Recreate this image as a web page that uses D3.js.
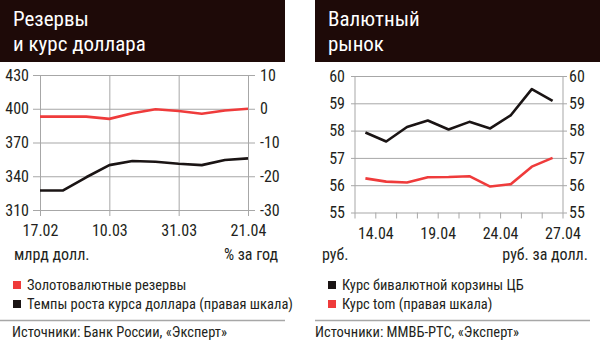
<!DOCTYPE html>
<html>
<head>
<meta charset="utf-8">
<script src="https://cdn.jsdelivr.net/npm/d3@7/dist/d3.min.js"></script>
<style>
  html, body { margin: 0; padding: 0; background: #fff; }
  svg { display: block; }
  text { font-family: "Liberation Sans Narrow", "Roboto Condensed", "DejaVu Sans Condensed", "Arial Narrow", sans-serif; fill: #231f20; }
  .head { fill: #fff; font-size: 21px; }
  .tick text { font-size: 16px; }
  .lbl { font-size: 16px; }
  .leg { font-size: 14.5px; }
  .src { font-size: 14.5px; }
</style>
</head>
<body>
<svg id="chart" width="600" height="345"></svg>
<script>
// Резервы и курс доллара
const reserveDates = ["17.02", "24.02", "03.03", "10.03", "17.03", "24.03", "31.03", "07.04", "14.04", "21.04"];
const reserveLabels = ["17.02", "10.03", "31.03", "21.04"];
const reserves = [393, 393, 393, 391, 396, 399.5, 398, 395.5, 398.5, 400];          // млрд долл.
const usdGrowth = [-24.2, -24.2, -20.3, -16.7, -15.5, -15.7, -16.3, -16.7, -15.2, -14.7]; // % за год
const reserveTicks = [310, 340, 370, 400, 430];
const growthTicks = [-30, -20, -10, 0, 10];

// Валютный рынок
const fxDates = ["14.04", "17.04", "18.04", "19.04", "20.04", "21.04", "24.04", "25.04", "26.04", "27.04"];
const fxLabels = ["14.04", "19.04", "24.04", "27.04"];
const basket = [57.93, 57.6, 58.13, 58.37, 58.04, 58.32, 58.08, 58.57, 59.52, 59.09];
const tom = [56.25, 56.13, 56.1, 56.29, 56.3, 56.33, 55.95, 56.04, 56.68, 57.0];
const fxTicks = [55, 56, 57, 58, 59, 60];

const RED = "#ef3b3b", BLACK = "#1a1414", GRID = "#a7a7a7", HEAD = "#1e0a08";
const intFmt = d => String(d);

const svg = d3.select("#chart");

function header(x, w, lines) {
  svg.append("rect").attr("x", x).attr("y", 0).attr("width", w).attr("height", 62).attr("fill", HEAD);
  lines.forEach((t, i) => {
    svg.append("text").attr("class", "head").attr("x", x + 13).attr("y", 26 + i * 25).text(t);
  });
}

function styleAxis(g) {
  g.select(".domain").remove();
  g.selectAll(".tick line").attr("stroke", GRID).attr("stroke-width", 1);
}

function legend(x, y, color, label) {
  svg.append("rect").attr("x", x).attr("y", y - 4).attr("width", 8).attr("height", 8).attr("fill", color);
  svg.append("text").attr("class", "leg").attr("x", x + 14).attr("y", y).attr("dy", "0.36em").text(label);
}

// ---------- left panel ----------
header(0, 285, ["Резервы", "и курс доллара"]);
{
  const x0 = 40, x1 = 248, top = 75, bottom = 210;
  const x = d3.scalePoint().domain(reserveDates).range([x0, x1]);
  const yL = d3.scaleLinear().domain([310, 430]).range([bottom, top]);
  const yR = d3.scaleLinear().domain([-30, 10]).range([bottom, top]);

  // horizontal grid + left labels
  svg.append("g").attr("transform", `translate(${x0 - 7},0)`)
    .call(d3.axisLeft(yL).tickValues(reserveTicks).tickSize(-(x1 - x0 + 14)).tickPadding(4).tickFormat(intFmt))
    .call(styleAxis);
  svg.append("g").attr("transform", `translate(${x1 + 7},0)`)
    .call(d3.axisRight(yR).tickValues(growthTicks).tickSize(0).tickPadding(5).tickFormat(intFmt))
    .call(styleAxis);

  // vertical grid at labelled dates + bottom labels
  svg.append("g").attr("transform", `translate(0,${top})`)
    .call(d3.axisBottom(x).tickValues(reserveLabels).tickSize(bottom - top + 6).tickPadding(9))
    .call(styleAxis);

  svg.append("text").attr("class", "lbl").attr("x", 14).attr("y", 260).text("млрд долл.");
  svg.append("text").attr("class", "lbl").attr("x", 278).attr("y", 260).attr("text-anchor", "end").text("% за год");

  const line = d3.line().x((d, i) => x(reserveDates[i]));
  svg.append("path").attr("fill", "none").attr("stroke", BLACK).attr("stroke-width", 2.6).attr("stroke-linejoin", "round")
    .attr("d", line.y(d => yR(d))(usdGrowth));
  svg.append("path").attr("fill", "none").attr("stroke", RED).attr("stroke-width", 2.6).attr("stroke-linejoin", "round")
    .attr("d", line.y(d => yL(d))(reserves));

  legend(13, 285, RED, "Золотовалютные резервы");
  legend(13, 304, BLACK, "Темпы роста курса доллара (правая шкала)");
  svg.append("line").attr("x1", 0).attr("x2", 285).attr("y1", 320.5).attr("y2", 320.5).attr("stroke", GRID).attr("stroke-width", 1.5);
  svg.append("text").attr("class", "src").attr("x", 12).attr("y", 337).text("Источники: Банк России, «Эксперт»");
}

// ---------- right panel ----------
header(315, 285, ["Валютный", "рынок"]);
{
  const x0 = 355, x1 = 563, top = 76, bottom = 212.5;
  const x = d3.scaleBand().domain(fxDates).range([x0, x1]);
  const cx = d => x(d) + x.bandwidth() / 2;
  const y = d3.scaleLinear().domain([55, 60]).range([bottom, top]);

  svg.append("g").attr("transform", `translate(${x0 - 4},0)`)
    .call(d3.axisLeft(y).tickValues(fxTicks).tickSize(-(x1 - x0 + 8)).tickPadding(6).tickFormat(intFmt))
    .call(styleAxis);
  svg.append("g").attr("transform", `translate(${x1 + 4},0)`)
    .call(d3.axisRight(y).tickValues(fxTicks).tickSize(0).tickPadding(2).tickFormat(intFmt))
    .call(styleAxis);

  // frame sides
  [x0, x1].forEach(px => {
    svg.append("line").attr("x1", px).attr("x2", px).attr("y1", top).attr("y2", bottom).attr("stroke", GRID);
  });
  // tick marks on band edges
  const edges = fxDates.map(d => x(d)).concat([x1]);
  svg.append("g").selectAll("line").data(edges).join("line")
    .attr("x1", d => d).attr("x2", d => d).attr("y1", bottom).attr("y2", bottom + 6).attr("stroke", GRID);

  svg.append("g").attr("transform", `translate(${x.bandwidth() / 2},${bottom})`)
    .call(d3.axisBottom(x).tickValues(fxLabels).tickSize(0).tickPadding(15))
    .call(styleAxis);

  svg.append("text").attr("class", "lbl").attr("x", 322).attr("y", 260).text("руб.");
  svg.append("text").attr("class", "lbl").attr("x", 588).attr("y", 260).attr("text-anchor", "end").text("руб. за долл.");

  const line = d3.line().x((d, i) => cx(fxDates[i])).y(d => y(d));
  svg.append("path").attr("fill", "none").attr("stroke", RED).attr("stroke-width", 2.6).attr("stroke-linejoin", "round").attr("d", line(tom));
  svg.append("path").attr("fill", "none").attr("stroke", BLACK).attr("stroke-width", 2.6).attr("stroke-linejoin", "round").attr("d", line(basket));

  legend(328, 285, BLACK, "Курс бивалютной корзины ЦБ");
  legend(328, 304, RED, "Курс tom (правая шкала)");
  svg.append("line").attr("x1", 315).attr("x2", 590).attr("y1", 320.5).attr("y2", 320.5).attr("stroke", GRID).attr("stroke-width", 1.5);
  svg.append("text").attr("class", "src").attr("x", 315).attr("y", 337).text("Источники: ММВБ-РТС, «Эксперт»");
}
</script>
</body>
</html>
